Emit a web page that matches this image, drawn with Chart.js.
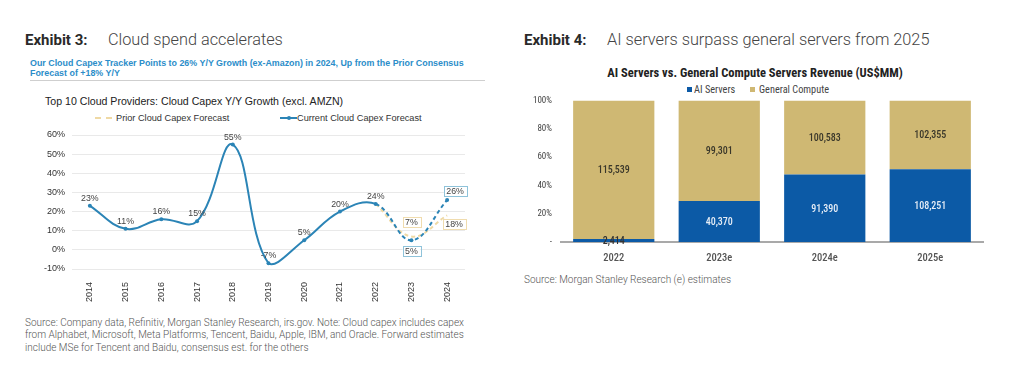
<!DOCTYPE html>
<html>
<head>
<meta charset="utf-8">
<script src="https://cdn.jsdelivr.net/npm/chart.js@4.4.1/dist/chart.umd.min.js"></script>
<style>
  html, body { margin:0; padding:0; background:#fff; }
  body { width:1024px; height:365px; position:relative; overflow:hidden; font-family: Roboto, "Liberation Sans", Arial, sans-serif; }
  .abs { position:absolute; white-space:nowrap; }
  .exh { color:#222; line-height:18px; }
  .exh b { font-weight:700; color:#2a2a2a; font-size:15px; }
  .exh span { font-weight:300; color:#444; font-size:16.3px; }
  .sub { font-family:"Liberation Sans", Arial, sans-serif; font-weight:700; font-size:8.9px; color:#2b8dc9; line-height:9.5px; }
  .rule { height:1px; background:#cfcfcf; }
  .ctitle { font-family:"Liberation Sans", Arial, sans-serif; font-size:10.6px; color:#222; line-height:12px; }
  .leg { font-family:"Liberation Sans", Arial, sans-serif; font-size:9.2px; color:#333; line-height:10px; }
  .src { font-size:10px; font-weight:300; color:#555; line-height:12.3px; }
  .rtitle { font-family:"Roboto Condensed", Roboto, "Liberation Sans", Arial, sans-serif; font-weight:700; font-size:12.5px; color:#222; line-height:14px; }
  .rleg { font-family:"Roboto Condensed", Roboto, "Liberation Sans", Arial, sans-serif; font-size:10.3px; color:#444; line-height:11px; }
  canvas { position:absolute; }
</style>
</head>
<body>
<div class="abs exh" style="left:25px; top:31px;"><b>Exhibit 3:</b><span style="position:absolute; left:83px; top:0;">Cloud spend accelerates</span></div>
<div class="abs sub" style="left:30px; top:59px;">Our Cloud Capex Tracker Points to 26% Y/Y Growth (ex-Amazon) in 2024, Up from the Prior Consensus<br>Forecast of +18% Y/Y</div>
<div class="abs rule" style="left:30px; top:80px; width:455px;"></div>
<div class="abs ctitle" style="left:45px; top:95px;">Top 10 Cloud Providers: Cloud Capex Y/Y Growth (excl. AMZN)</div>
<div class="abs" style="left:95px; top:117px; width:17px; height:0; border-top:2px dashed #efd9a4;"></div>
<div class="abs leg" style="left:116px; top:113px;">Prior Cloud Capex Forecast</div>
<div class="abs" style="left:280px; top:117px; width:17px; height:2px; background:#2b84b6;"></div>
<div class="abs" style="left:287px; top:116px; width:4px; height:4px; border-radius:2px; background:#2b84b6;"></div>
<div class="abs leg" style="left:297px; top:113px;">Current Cloud Capex Forecast</div>
<canvas id="c1" width="490" height="190" style="left:0; top:120px; width:490px; height:190px;"></canvas>
<div class="abs src" style="left:25px; top:317px;">Source: Company data, Refinitiv, Morgan Stanley Research, irs.gov. Note: Cloud capex includes capex<br>from Alphabet, Microsoft, Meta Platforms, Tencent, Baidu, Apple, IBM, and Oracle. Forward estimates<br>include MSe for Tencent and Baidu, consensus est. for the others</div>

<div class="abs exh" style="left:524px; top:31px;"><b>Exhibit 4:</b><span style="position:absolute; left:83px; top:0;">AI servers surpass general servers from 2025</span></div>
<div class="abs rtitle" style="left:555px; width:400px; text-align:center; top:66px;">AI Servers vs. General Compute Servers Revenue (US$MM)</div>
<div class="abs" style="left:687px; top:87px; width:5px; height:5px; background:#0c5aa6;"></div>
<div class="abs rleg" style="left:694px; top:84px;">AI Servers</div>
<div class="abs" style="left:750px; top:87px; width:5px; height:5px; background:#cfb873;"></div>
<div class="abs rleg" style="left:759px; top:84px;">General Compute</div>
<canvas id="c2" width="500" height="186" style="left:510px; top:86px; width:500px; height:186px;"></canvas>
<div class="abs src" style="left:524px; top:274px;">Source: Morgan Stanley Research (e) estimates</div>

<script>
// ---------- Exhibit 3 data ----------
const years = ['2014','2015','2016','2017','2018','2019','2020','2021','2022','2023','2024'];
const currentForecast = [23, 11, 16, 15, 55, -7, 5, 20, 24, 5, 26];
const priorForecast = [null, null, null, null, null, null, null, null, 24, 7, 18];
const forecastFromIndex = 8;
const yTicks3 = { min: -10, max: 60, step: 10 };

// ---------- Exhibit 4 data ----------
const serverYears = ['2022', '2023e', '2024e', '2025e'];
const aiServers = [2414, 40370, 91390, 108251];
const generalCompute = [115539, 99301, 100583, 102355];

// ---------- Exhibit 3 chart ----------
const lineColor = '#2b84b6';
const priorColor = '#efd9a4';
const fmtPct = v => v + '%';

const lineLabelPlugin = {
  id: 'lineLabels',
  afterDatasetsDraw(chart, args, opts) {
    const ctx = chart.ctx;
    ctx.save();
    ctx.font = '8.8px "Liberation Sans", Arial, sans-serif';
    ctx.textAlign = 'center';
    ctx.textBaseline = 'middle';
    chart.data.datasets.forEach((ds, di) => {
      const meta = chart.getDatasetMeta(di);
      const spec = opts.specs[ds.labelKey] || {};
      ds.data.forEach((v, i) => {
        if (v === null) return;
        const s = spec[i] !== undefined ? spec[i] : spec.def;
        if (!s) return;
        const el = meta.data[i];
        const x = el.x + s.dx, y = el.y + s.dy;
        const txt = fmtPct(v);
        if (s.box) {
          const w = ctx.measureText(txt).width + 5, h = 10;
          ctx.fillStyle = '#fff';
          ctx.fillRect(x - w / 2, y - h / 2, w, h);
          ctx.strokeStyle = s.box;
          ctx.lineWidth = 1;
          ctx.strokeRect(Math.round(x - w / 2) + 0.5, Math.round(y - h / 2) + 0.5, Math.round(w), h);
        }
        ctx.fillStyle = '#444';
        ctx.fillText(txt, x, y + 0.5);
      });
    });
    ctx.restore();
  }
};

new Chart(document.getElementById('c1'), {
  type: 'line',
  data: {
    labels: years,
    datasets: [
      {
        label: 'Prior Cloud Capex Forecast',
        labelKey: 'prior',
        data: priorForecast,
        borderColor: priorColor,
        backgroundColor: priorColor,
        borderWidth: 2,
        borderDash: [4, 3],
        pointRadius: 0,
        tension: 0.4,
        order: 2
      },
      {
        label: 'Current Cloud Capex Forecast',
        labelKey: 'current',
        data: currentForecast,
        borderColor: lineColor,
        backgroundColor: lineColor,
        borderWidth: 2,
        pointRadius: 2,
        pointBorderWidth: 0,
        tension: 0.4,
        order: 1,
        segment: {
          borderDash: c => c.p0DataIndex >= forecastFromIndex ? [4, 3] : undefined
        }
      }
    ]
  },
  options: {
    responsive: false,
    animation: false,
    layout: { padding: { top: 15, right: 25, left: 0, bottom: 0 } },
    plugins: {
      legend: { display: false },
      tooltip: { enabled: false },
      lineLabels: {
        specs: {
          current: {
            def: { dx: 0, dy: -8 },
            9: { dx: 0, dy: 11, box: '#8fc3da' },
            10: { dx: 8, dy: -9, box: '#8fc3da' }
          },
          prior: {
            def: null,
            9: { dx: 0, dy: -14, box: '#f0dcae' },
            10: { dx: 7, dy: 9, box: '#f0dcae' }
          }
        }
      }
    },
    scales: {
      x: {
        offset: true,
        grid: { display: false },
        border: { display: false },
        ticks: {
          minRotation: 90, maxRotation: 90, padding: 5,
          color: '#333',
          font: { family: '"Liberation Sans", Arial, sans-serif', size: 9 }
        },
        afterFit: s => { s.height = 41; }
      },
      y: {
        min: yTicks3.min, max: yTicks3.max,
        grid: { color: '#e9e9e9', drawTicks: false, lineWidth: 1 },
        border: { display: false },
        ticks: {
          stepSize: yTicks3.step, padding: 7,
          color: '#333',
          font: { family: '"Liberation Sans", Arial, sans-serif', size: 9 },
          callback: v => v + '%'
        },
        afterFit: s => { s.width = 72; }
      }
    }
  },
  plugins: [lineLabelPlugin]
});

// ---------- Exhibit 4 chart ----------
const totals = aiServers.map((v, i) => v + generalCompute[i]);
const aiShare = aiServers.map((v, i) => v / totals[i] * 100);
const genShare = generalCompute.map((v, i) => v / totals[i] * 100);
const narrow = '"Roboto Condensed", Roboto, "Liberation Sans", Arial, sans-serif';

const barLabelPlugin = {
  id: 'barLabels',
  afterDatasetsDraw(chart, args, opts) {
    const ctx = chart.ctx;
    ctx.save();
    ctx.font = '500 10px ' + narrow;
    ctx.textAlign = 'center';
    ctx.textBaseline = 'middle';
    chart.data.datasets.forEach((ds, di) => {
      const meta = chart.getDatasetMeta(di);
      meta.data.forEach((el, i) => {
        const raw = ds.rawValues[i];
        const y = (el.y + el.base) / 2;
        const small = Math.abs(el.base - el.y) < 12;
        ctx.fillStyle = small ? '#333' : ds.labelColor;
        ctx.fillText(raw.toLocaleString('en-US'), el.x, y + 1);
      });
    });
    ctx.restore();
  }
};

new Chart(document.getElementById('c2'), {
  type: 'bar',
  data: {
    labels: serverYears,
    datasets: [
      {
        label: 'AI Servers',
        data: aiShare,
        rawValues: aiServers,
        backgroundColor: '#0c5aa6',
        labelColor: '#e6edf6',
        barPercentage: 0.77,
        categoryPercentage: 1
      },
      {
        label: 'General Compute',
        data: genShare,
        rawValues: generalCompute,
        backgroundColor: '#cfb873',
        labelColor: '#3a372a',
        barPercentage: 0.77,
        categoryPercentage: 1
      }
    ]
  },
  options: {
    responsive: false,
    animation: false,
    layout: { padding: { top: 0, right: 27, left: 0, bottom: 0 } },
    plugins: { legend: { display: false }, tooltip: { enabled: false } },
    scales: {
      x: {
        stacked: true,
        grid: { display: false },
        border: { display: true, color: '#a9a9a9', width: 2 },
        ticks: { padding: 2, color: '#555', font: { family: narrow, size: 10.5, weight: '500' } },
        afterFit: s => { s.height = 30; }
      },
      y: {
        stacked: true,
        min: 0, max: 100,
        grid: { display: false, drawTicks: false },
        border: { display: false },
        ticks: {
          stepSize: 20, padding: 9, color: '#444',
          font: { family: narrow, size: 9 },
          callback: v => v === 0 ? '-' : v + '%'
        },
        afterFit: s => { s.width = 51; }
      }
    }
  },
  plugins: [barLabelPlugin]
});
</script>
</body>
</html>
